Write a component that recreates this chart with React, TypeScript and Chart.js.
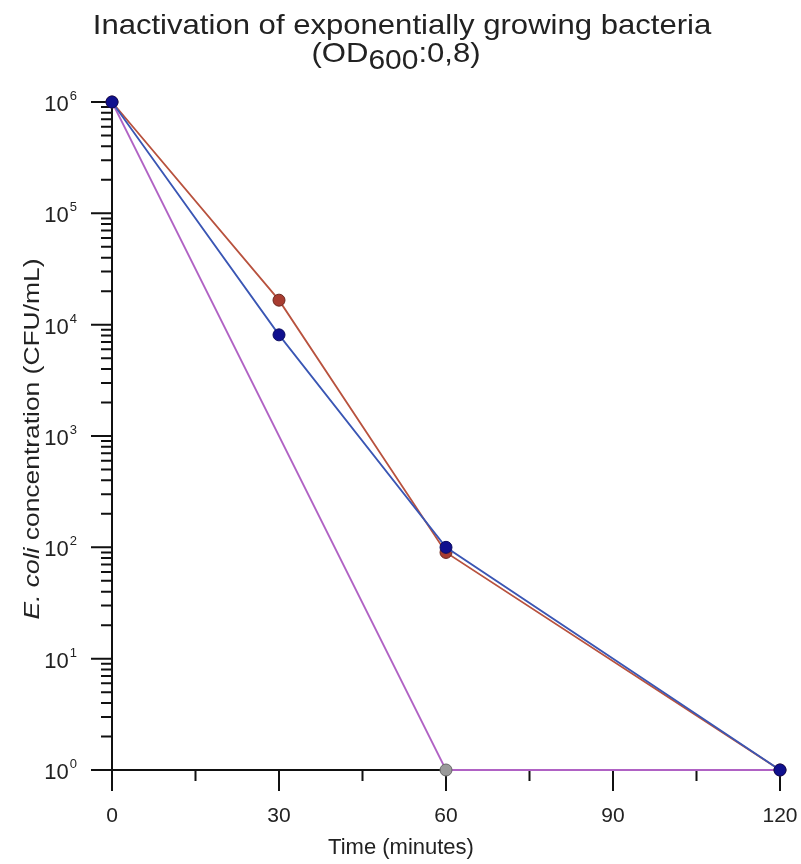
import React, { useEffect, useRef } from "react";
import { Chart, registerables } from "chart.js";

Chart.register(...registerables);

const timePoints = [0, 30, 60, 120];
const seriesBrown = [1e6, 1.66e4, 90, 1];
const seriesBlue = [1e6, 8.1e3, 100, 1];
const purpleTimes = [0, 60, 120];
const seriesPurple = [1e6, 1, 1];
const xMajorTicks = [0, 30, 60, 90, 120];
const xMinorTicks = [15, 45, 75, 105];
const yExponents = [0, 1, 2, 3, 4, 5, 6];
const titleLine1 = "Inactivation of exponentially growing bacteria";
const titleLine2 = ["(OD", "600", ":0,8)"];
const xTitle = "Time (minutes)";
const yTitleItalic = "E. coli";
const yTitleRest = " concentration (CFU/mL)";

const FONT = "'Liberation Sans', Arial, Helvetica, sans-serif";

const toXY = (xs: number[], ys: number[]) => xs.map((x, i) => ({ x, y: ys[i] }));

const axesPlugin = {
  id: "customAxes",
  beforeDatasetsDraw(chart: any) {
    const ctx = chart.ctx;
    const xs = chart.scales.x;
    const ys = chart.scales.y;
    const x0 = xs.getPixelForValue(0);
    const x1 = xs.getPixelForValue(120);
    const y0 = ys.getPixelForValue(1);
    const y1 = ys.getPixelForValue(1e6);
    ctx.save();
    ctx.strokeStyle = "#111";
    ctx.lineWidth = 2;
    ctx.beginPath();
    ctx.moveTo(x0, y1);
    ctx.lineTo(x0, y0);
    ctx.lineTo(x1, y0);
    ctx.stroke();
    ctx.beginPath();
    xMajorTicks.forEach((t) => {
      const px = xs.getPixelForValue(t);
      ctx.moveTo(px, y0);
      ctx.lineTo(px, y0 + 21);
    });
    xMinorTicks.forEach((t) => {
      const px = xs.getPixelForValue(t);
      ctx.moveTo(px, y0);
      ctx.lineTo(px, y0 + 11);
    });
    yExponents.forEach((e) => {
      const py = ys.getPixelForValue(Math.pow(10, e));
      ctx.moveTo(x0, py);
      ctx.lineTo(x0 - 21, py);
      if (e < 6) {
        for (let k = 2; k <= 9; k++) {
          const pm = ys.getPixelForValue(k * Math.pow(10, e));
          ctx.moveTo(x0, pm);
          ctx.lineTo(x0 - 11, pm);
        }
      }
    });
    ctx.stroke();
    ctx.restore();
  },
  afterDraw(chart: any) {
    const ctx = chart.ctx;
    const xs = chart.scales.x;
    const ys = chart.scales.y;
    const x0 = xs.getPixelForValue(0);
    const y0 = ys.getPixelForValue(1);
    ctx.save();
    ctx.fillStyle = "#222";
    // x tick labels
    ctx.font = `21px ${FONT}`;
    ctx.textAlign = "center";
    ctx.textBaseline = "middle";
    xMajorTicks.forEach((t) => {
      ctx.fillText(String(t), xs.getPixelForValue(t), y0 + 46);
    });
    // y tick labels 10^n
    yExponents.forEach((e) => {
      const py = ys.getPixelForValue(Math.pow(10, e));
      ctx.font = `13px ${FONT}`;
      const ew = ctx.measureText(String(e)).width;
      const right = x0 - 35;
      ctx.textAlign = "right";
      ctx.textBaseline = "alphabetic";
      ctx.fillText(String(e), right, py - 2);
      ctx.font = `22px ${FONT}`;
      ctx.fillText("10", right - ew - 1, py + 9);
    });
    // x title
    ctx.font = `22px ${FONT}`;
    ctx.textAlign = "center";
    ctx.textBaseline = "middle";
    ctx.fillText(xTitle, (xs.left + xs.right) / 2 - 45, y0 + 78);

    // title, slightly stretched horizontally
    const sxs = 1.11;
    ctx.save();
    ctx.scale(sxs, 1);
    ctx.font = `28px ${FONT}`;
    ctx.textAlign = "center";
    ctx.textBaseline = "alphabetic";
    ctx.fillText(titleLine1, 402 / sxs, 34);
    const big = `28px ${FONT}`;
    const small = `27px ${FONT}`;
    ctx.font = big;
    const w1 = ctx.measureText(titleLine2[0]).width;
    const w3 = ctx.measureText(titleLine2[2]).width;
    ctx.font = small;
    const w2 = ctx.measureText(titleLine2[1]).width;
    const total = w1 + w2 + w3;
    let sx = 396 / sxs - total / 2;
    ctx.textAlign = "left";
    ctx.font = big;
    ctx.fillText(titleLine2[0], sx, 62);
    sx += w1;
    ctx.font = small;
    ctx.fillText(titleLine2[1], sx, 69);
    sx += w2;
    ctx.font = big;
    ctx.fillText(titleLine2[2], sx, 62);
    ctx.restore();

    // y title (stretched along its length)
    ctx.translate(33, 439);
    ctx.rotate(-Math.PI / 2);
    const st = 1.2;
    ctx.scale(st, 1);
    const fi = `italic 22px ${FONT}`;
    const fn = `22px ${FONT}`;
    ctx.font = fi;
    const wi = ctx.measureText(yTitleItalic).width;
    ctx.font = fn;
    const wn = ctx.measureText(yTitleRest).width;
    let tx = -(wi + wn) / 2;
    ctx.textAlign = "left";
    ctx.textBaseline = "middle";
    ctx.font = fi;
    ctx.fillText(yTitleItalic, tx, 0);
    tx += wi;
    ctx.font = fn;
    ctx.fillText(yTitleRest, tx, 0);
    ctx.restore();
  },
};

export default function App() {
  const ref = useRef<HTMLCanvasElement>(null);
  useEffect(() => {
    if (!ref.current) return;
    const chart = new Chart(ref.current, {
      type: "line",
      data: {
        datasets: [
          {
            label: "blue",
            data: toXY(timePoints, seriesBlue),
            borderColor: "#3a56b4",
            borderWidth: 1.8,
            pointRadius: 6,
            pointBackgroundColor: "#10108e",
            pointBorderColor: "#0a0a60",
            pointBorderWidth: 1,
            clip: false,
          },
          {
            label: "brown",
            data: toXY(timePoints, seriesBrown),
            borderColor: "#b8523e",
            borderWidth: 1.8,
            pointRadius: 6,
            pointBackgroundColor: "#a83c30",
            pointBorderColor: "#6a2820",
            pointBorderWidth: 1,
            clip: false,
          },
          {
            label: "purple",
            data: toXY(purpleTimes, seriesPurple),
            borderColor: "#b062c4",
            borderWidth: 1.8,
            pointRadius: [0, 6, 0],
            pointBackgroundColor: "#9a9a9a",
            pointBorderColor: "#666",
            pointBorderWidth: 1,
            clip: false,
          },
        ],
      },
      options: {
        animation: false,
        responsive: false,
        events: [],
        layout: { padding: { left: 112, right: 21, top: 102, bottom: 94 } },
        scales: {
          x: { type: "linear", min: 0, max: 120, display: false },
          y: { type: "logarithmic", min: 1, max: 1e6, display: false },
        },
        plugins: { legend: { display: false }, tooltip: { enabled: false }, title: { display: false } },
      },
      plugins: [axesPlugin],
    });
    return () => chart.destroy();
  }, []);
  return (
    <div style={{ position: "absolute", left: 0, top: 0, width: 801, height: 864, background: "#fff" }}>
      <canvas ref={ref} width={801} height={864} style={{ width: 801, height: 864 }} />
    </div>
  );
}
